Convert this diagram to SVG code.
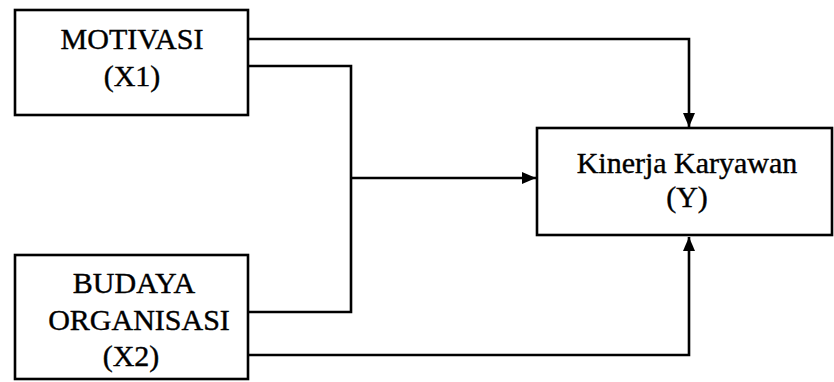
<svg xmlns="http://www.w3.org/2000/svg" width="834" height="382" viewBox="0 0 834 382">
<style>
.box{fill:#fff;stroke:#000;stroke-width:2.6}
.t{font-family:"Liberation Serif","Times New Roman",serif;font-size:30px;fill:#000;stroke:#000;stroke-width:0.4;text-anchor:middle}
.c{fill:none;stroke:#000;stroke-width:2.6}
</style>
<defs>
<marker id="ah" viewBox="0 0 14 12" refX="14" refY="6" markerWidth="14" markerHeight="12" markerUnits="userSpaceOnUse" orient="auto">
<path d="M0,0 L14,6 L0,12 Z" fill="#000"/>
</marker>
</defs>
<rect width="834" height="382" fill="#fff"/>
<g id="connectors">
<path class="c" d="M248,39 H689 V127" marker-end="url(#ah)"/>
<path class="c" d="M248,66 H351 V312 H248"/>
<path class="c" d="M351,178 H536" marker-end="url(#ah)"/>
<path class="c" d="M248,355 H689 V237" marker-end="url(#ah)"/>
</g>
<g id="motivasi">
<rect class="box" x="15" y="10" width="233" height="105"/>
<text class="t" x="132" y="49">MOTIVASI</text>
<text class="t" x="132" y="86">(X1)</text>
</g>
<g id="budaya">
<rect class="box" x="15" y="255" width="233" height="124"/>
<text class="t" x="134" y="293">BUDAYA</text>
<text class="t" x="139" y="330">ORGANISASI</text>
<text class="t" x="131" y="366">(X2)</text>
</g>
<g id="kinerja">
<rect class="box" x="537" y="128" width="295" height="107"/>
<text class="t" x="687" y="173">Kinerja Karyawan</text>
<text class="t" x="687" y="207">(Y)</text>
</g>
</svg>
